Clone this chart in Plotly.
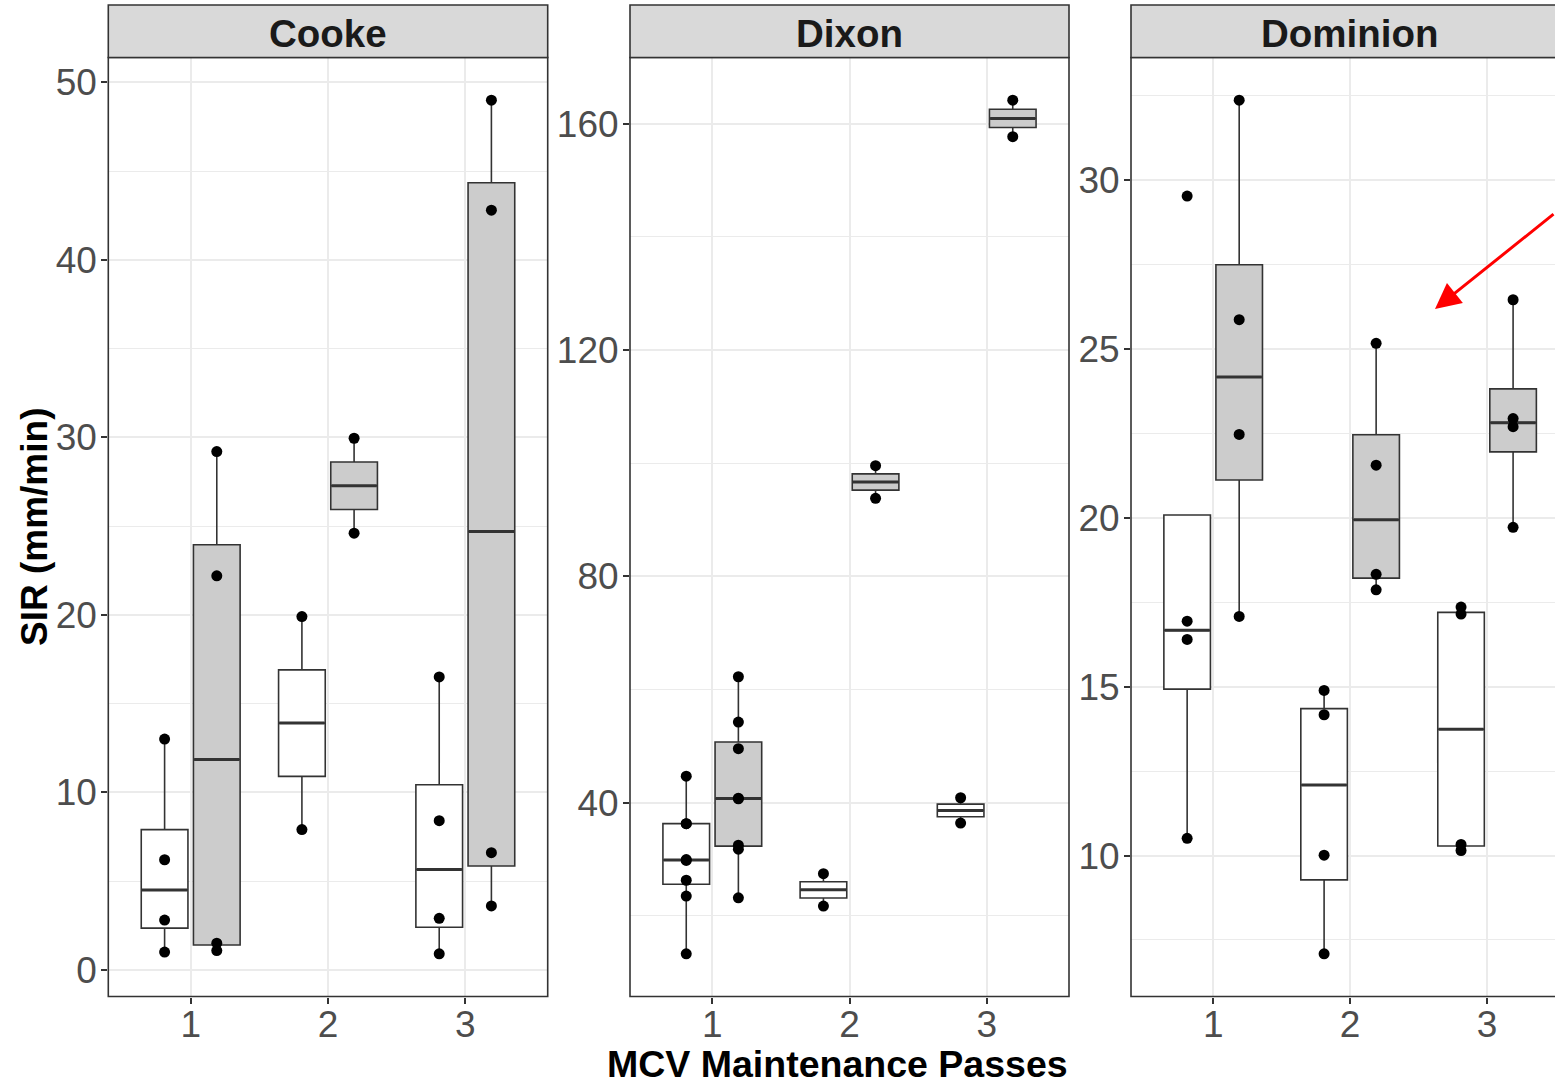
import numpy as np
import plotly.graph_objects as go

# ---------------- data ----------------
sites = ["Cooke", "Dixon", "Dominion"]
passes = [1, 2, 3]
x_tick_labels = ["1", "2", "3"]

# SIR values (mm/min); per pass: [pass1, pass2, pass3]
cooke_white = [[1.0, 2.8, 6.2, 13.0], [7.9, 19.9], [0.9, 2.9, 8.4, 16.5]]
cooke_grey = [[1.08, 1.5, 22.2, 29.2], [24.6, 29.95], [3.6, 6.6, 42.8, 49.0]]

dixon_white = [[13.3, 23.5, 26.3, 29.8, 29.95, 36.3, 36.3, 44.7], [21.74, 27.46], [36.4, 40.88]]
dixon_grey = [[23.2, 31.8, 32.5, 40.7, 40.8, 49.55, 54.25, 62.26], [93.8, 99.56], [157.7, 164.15]]

dominion_white = [[10.51, 16.4, 16.94, 29.53], [7.09, 10.01, 14.17, 14.89], [10.15, 10.33, 17.15, 17.36]]
dominion_grey = [[17.08, 22.47, 25.87, 32.37], [17.87, 18.33, 21.56, 25.17], [19.72, 22.7, 22.94, 26.46]]

y_dticks = [10, 40, 5]
y_minor = [5, 20, 2.5]

# ---------------- styling / layout constants ----------------
W, H = 1555, 1084
FONT = "Liberation Sans, Arial, sans-serif"
DARK = "#333333"
GRID = "#EBEBEB"
WHITE_FILL = "#FFFFFF"
GREY_FILL = "#CCCCCC"
STRIP_FILL = "#D9D9D9"
DODGE = 0.19
BOX_W = 0.34

panel_px = [(108.3, 547.7), (630.0, 1069.0), (1131.0, 1555.0)]
panel_top_px, panel_bot_px = 57.5, 996.5
strip_top_px = 5.0
x_ranges = [[0.4, 3.6], [0.4, 3.6], [0.4, 3.496]]

site_data = [(cooke_white, cooke_grey), (dixon_white, dixon_grey), (dominion_white, dominion_grey)]


def stats(vals):
    v = np.sort(np.asarray(vals, dtype=float))
    q1, med, q3 = np.percentile(v, [25, 50, 75])
    iqr = q3 - q1
    lf = v[v >= q1 - 1.5 * iqr].min()
    uf = v[v <= q3 + 1.5 * iqr].max()
    return q1, med, q3, lf, uf


fig = go.Figure()

for i, (white, grey) in enumerate(site_data):
    xa = "x" if i == 0 else f"x{i+1}"
    ya = "y" if i == 0 else f"y{i+1}"
    for groups, off, fill in [(white, -DODGE, WHITE_FILL), (grey, DODGE, GREY_FILL)]:
        centers = [p + off for p in passes]
        st = [stats(g) for g in groups]
        fig.add_trace(go.Box(
            x=centers,
            q1=[s[0] for s in st], median=[s[1] for s in st], q3=[s[2] for s in st],
            lowerfence=[s[3] for s in st], upperfence=[s[4] for s in st],
            width=BOX_W, fillcolor=fill, line=dict(color=DARK, width=1.6),
            whiskerwidth=0, boxpoints=False, showlegend=False, hoverinfo="skip",
            xaxis=xa, yaxis=ya,
        ))
        # thicker median line (ggplot "fatten")
        mx, my = [], []
        for c, s in zip(centers, st):
            mx += [c - BOX_W / 2 + 0.005, c + BOX_W / 2 - 0.005, None]
            my += [s[1], s[1], None]
        fig.add_trace(go.Scatter(x=mx, y=my, mode="lines", line=dict(color=DARK, width=3),
                                 showlegend=False, hoverinfo="skip", xaxis=xa, yaxis=ya))
        # data points
        px, py = [], []
        for c, g in zip(centers, groups):
            px += [c] * len(g)
            py += list(g)
        fig.add_trace(go.Scatter(x=px, y=py, mode="markers",
                                 marker=dict(color="black", size=11),
                                 showlegend=False, hoverinfo="skip", xaxis=xa, yaxis=ya))

ydom = [1 - panel_bot_px / H, 1 - panel_top_px / H]
tickfont = dict(family=FONT, size=37, color="#4D4D4D")
shapes = []
annotations = []

for i in range(3):
    white, grey = site_data[i]
    allv = [v for g in white + grey for v in g]
    lo, hi = min(allv), max(allv)
    pad = 0.05 * (hi - lo)
    x0, x1 = panel_px[i]
    xdom = [x0 / W, x1 / W]
    sfx = "" if i == 0 else str(i + 1)
    fig.update_layout(**{
        f"xaxis{sfx}": dict(
            domain=xdom, range=x_ranges[i], tickvals=passes, ticktext=x_tick_labels,
            showgrid=True, gridcolor=GRID, gridwidth=1.5, zeroline=False,
            ticks="outside", ticklen=6, tickwidth=1.5, tickcolor=DARK,
            tickfont=tickfont, anchor="y" + sfx, showline=False, ticklabelstandoff=-11,
        ),
        f"yaxis{sfx}": dict(
            domain=ydom, range=[lo - pad, hi + pad], dtick=y_dticks[i], tick0=0,
            showgrid=True, gridcolor=GRID, gridwidth=1.5, zeroline=False,
            minor=dict(dtick=y_minor[i], tick0=0, showgrid=True, gridcolor=GRID, gridwidth=0.8, ticks=""),
            ticks="outside", ticklen=6, tickwidth=1.5, tickcolor=DARK,
            tickfont=tickfont, anchor="x" + sfx, showline=False, ticklabelstandoff=-3,
        ),
    })
    right = x1 / W if i < 2 else 1.02
    # panel border
    shapes.append(dict(type="rect", xref="paper", yref="paper",
                       x0=x0 / W, x1=right, y0=ydom[0], y1=ydom[1],
                       line=dict(color=DARK, width=1.6), fillcolor="rgba(0,0,0,0)", layer="above"))
    # strip
    shapes.append(dict(type="rect", xref="paper", yref="paper",
                       x0=x0 / W, x1=right, y0=1 - panel_top_px / H, y1=1 - strip_top_px / H,
                       line=dict(color=DARK, width=1.6), fillcolor=STRIP_FILL, layer="above"))
    annotations.append(dict(
        text=sites[i], xref="x" + sfx, x=2, yref="paper",
        y=1 - ((strip_top_px + panel_top_px) / 2 + 2) / H, xanchor="center", yanchor="middle",
        showarrow=False, font=dict(family=FONT, size=38.5, color="#1A1A1A", weight="bold"),
    ))

annotations.append(dict(
    text="SIR (mm/min)", textangle=-90, xref="paper", yref="paper",
    x=34 / W, y=1 - 527 / H, xanchor="center", yanchor="middle", showarrow=False,
    font=dict(family=FONT, size=37, color="black", weight="bold"),
))
annotations.append(dict(
    text="MCV Maintenance Passes", xref="paper", yref="paper",
    x=837.5 / W, y=1 - 1064 / H, xanchor="center", yanchor="middle", showarrow=False,
    font=dict(family=FONT, size=37.5, color="black", weight="bold"),
))
# red arrow callout
annotations.append(dict(
    text="", xref="paper", yref="paper", x=1435 / W, y=1 - 309 / H,
    ax=128, ay=-96, axref="pixel", ayref="pixel",
    showarrow=True, arrowhead=2, arrowsize=1.7, arrowwidth=3, arrowcolor="#FF0000", standoff=0,
))

fig.update_layout(
    width=W, height=H, margin=dict(l=0, r=0, t=0, b=0),
    paper_bgcolor="white", plot_bgcolor="white",
    shapes=shapes, annotations=annotations, showlegend=False,
    font=dict(family=FONT),
)

fig.write_html(
    "out.html",
    config={"displayModeBar": False},
    post_script="document.body.style.margin='0';document.body.style.overflow='hidden';",
)
